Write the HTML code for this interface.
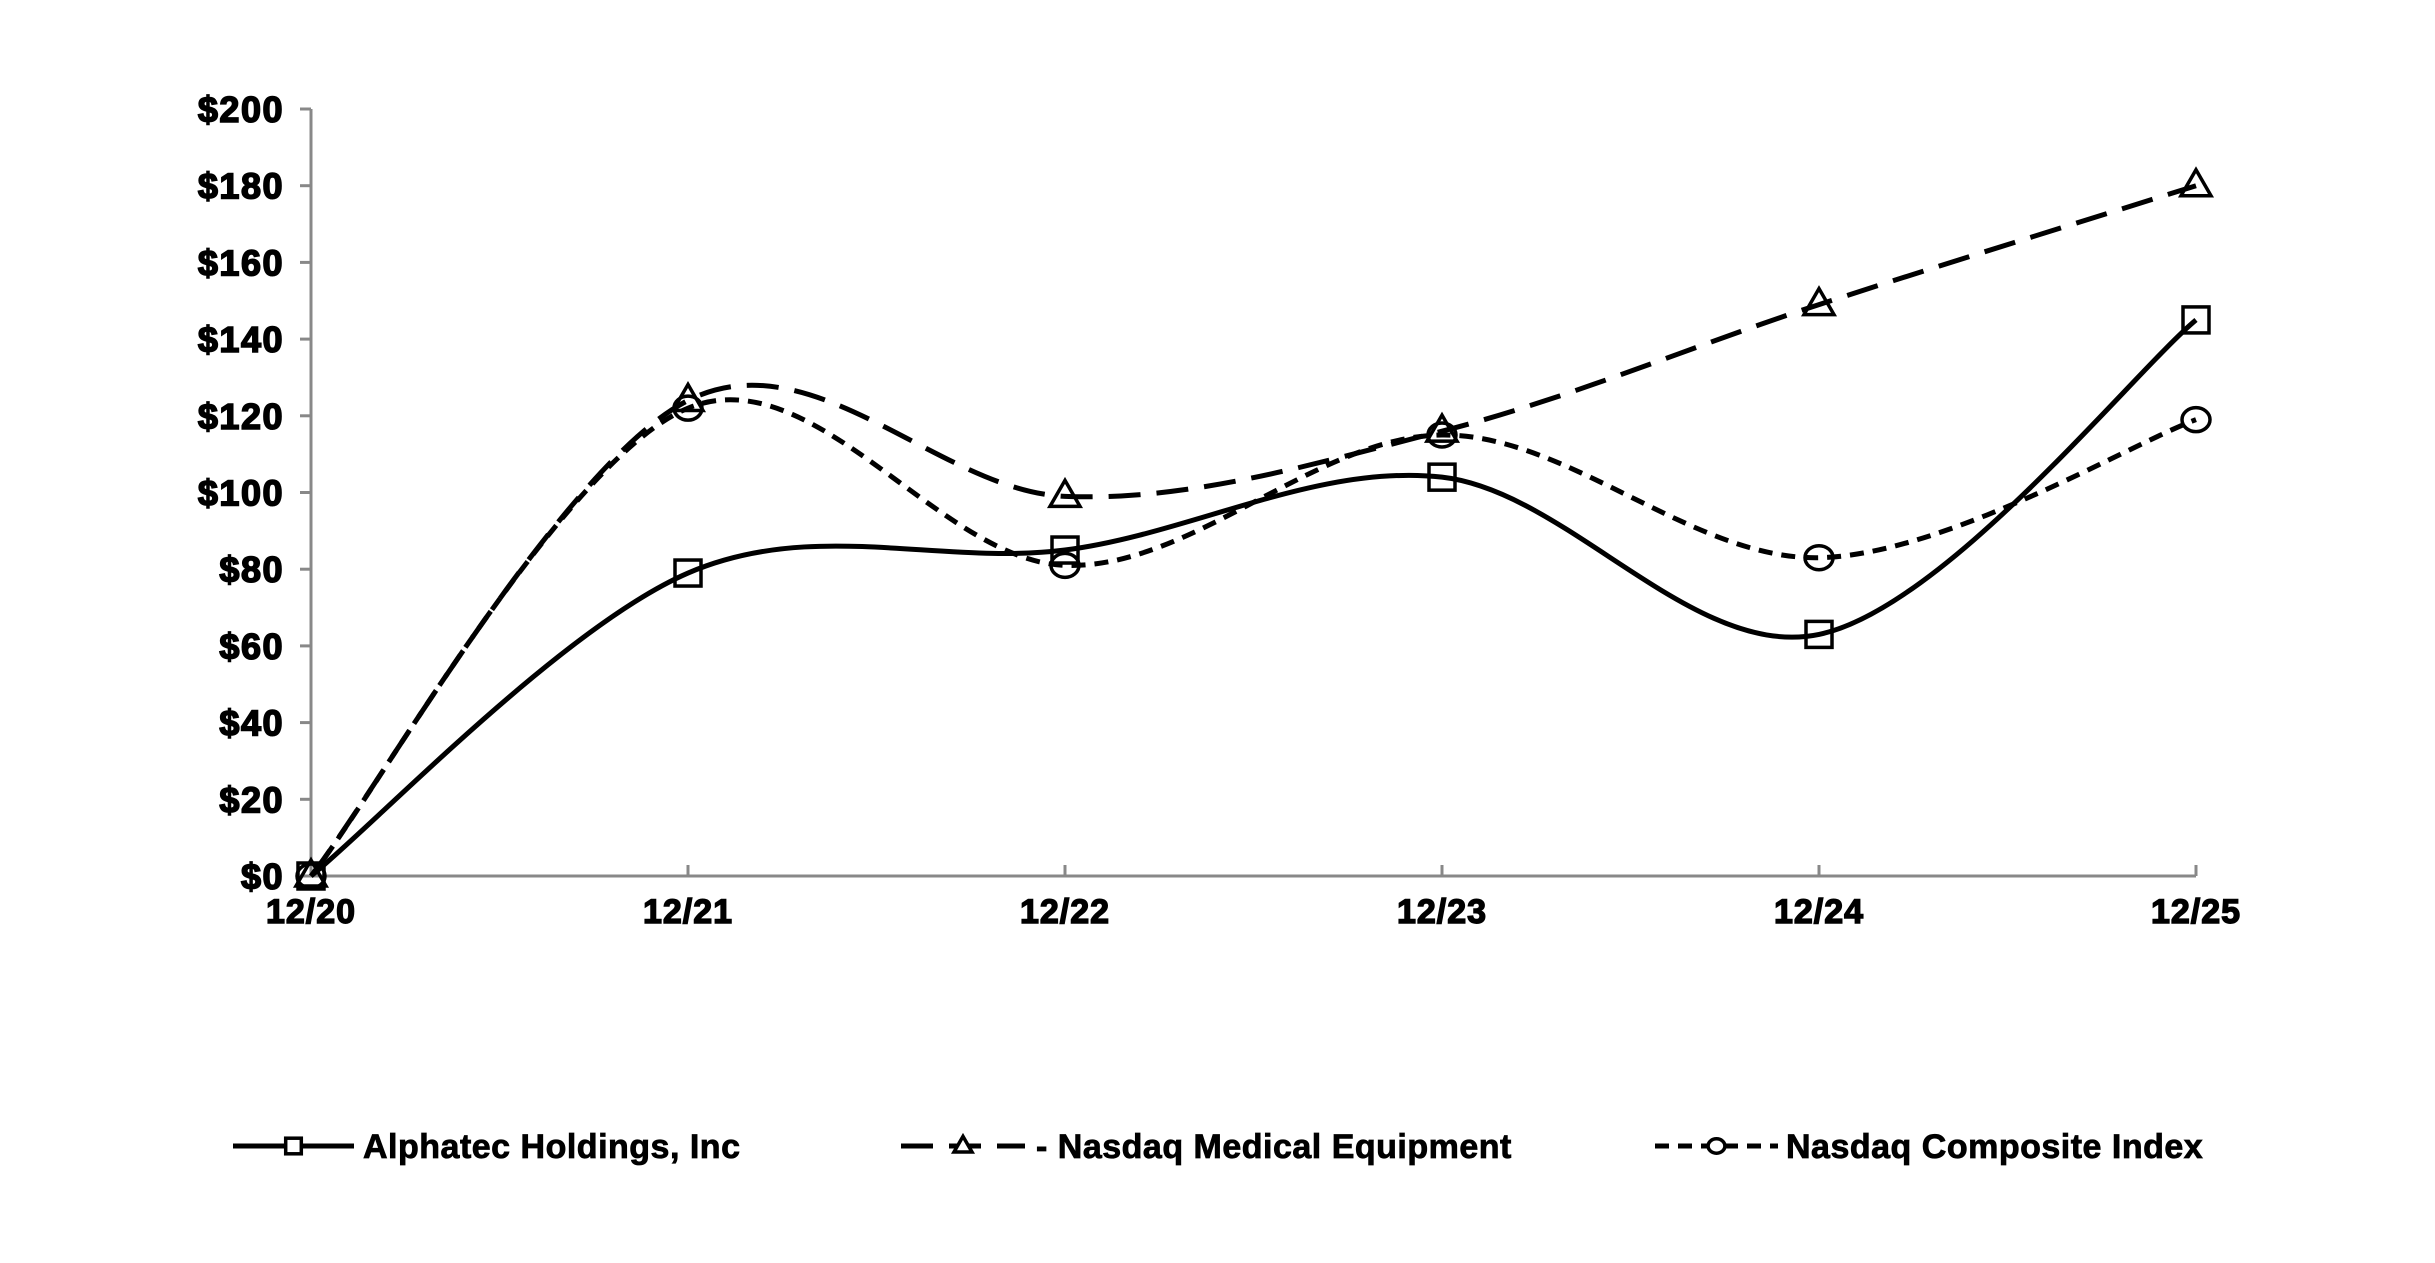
<!DOCTYPE html>
<html><head><meta charset="utf-8"><style>
html,body{margin:0;padding:0;background:#fff;}
svg{display:block;font-family:"Liberation Sans",Arial,sans-serif;font-weight:bold;}
</style></head><body>
<svg id="chart" width="2435" height="1263" viewBox="0 0 2435 1263" xmlns="http://www.w3.org/2000/svg">
<g id="axes"></g>
<g id="series"></g>
<g id="legend"></g>
</svg>
<script>
const categories = ["12/20","12/21","12/22","12/23","12/24","12/25"];
const alphatec = [0, 79, 85, 104, 63, 145];
const medical = [0, 124, 99, 116, 149, 180];
const composite = [0, 122, 81, 115, 83, 119];
const yTicks = [0,20,40,60,80,100,120,140,160,180,200];
const seriesNames = ["Alphatec Holdings, Inc","- Nasdaq Medical Equipment","Nasdaq Composite Index"];

const NS="http://www.w3.org/2000/svg";
const X0=311, X1=2196, Y0=876, Y1=109;
function xs(i){return X0+(X1-X0)*i/(categories.length-1);}
function ys(v){return Y0-(Y0-Y1)*v/200;}
function mk(tag,attrs,parent){const e=document.createElementNS(NS,tag);for(const k in attrs)e.setAttribute(k,attrs[k]);parent.appendChild(e);return e;}
const axes=document.getElementById('axes'), series=document.getElementById('series'), legend=document.getElementById('legend');

let yl=mk('line',{x1:X0,y1:Y1,x2:X0,y2:Y0,stroke:'#888','stroke-width':3},axes);


yTicks.forEach(v=>{
  const t=mk('line',{x1:X0-11,y1:ys(v),x2:X0,y2:ys(v),stroke:'#888','stroke-width':3},axes);
  
  
  const l=mk('text',{x:X0-27,y:ys(v)+13,'text-anchor':'end','font-size':36,stroke:'#000','stroke-width':1.6,'letter-spacing':1.5},axes);
  l.textContent='$'+v;
  
  
});
let xl=mk('line',{x1:X0,y1:Y0,x2:X1,y2:Y0,stroke:'#888','stroke-width':3},axes);


categories.forEach((c,i)=>{
  const t=mk('line',{x1:xs(i),y1:Y0,x2:xs(i),y2:Y0-11,stroke:'#888','stroke-width':3},axes);
  
  
  const l=mk('text',{x:xs(i),y:Y0+47,'text-anchor':'middle','font-size':34,stroke:'#000','stroke-width':1.4,'letter-spacing':1},axes);
  l.textContent=c;
  
  
});

function smoothPath(vals){
  const p=vals.map((v,i)=>[xs(i),ys(v)]);
  let d='M'+p[0][0]+','+p[0][1];
  for(let i=0;i<p.length-1;i++){
    const p0=p[Math.max(i-1,0)],p1=p[i],p2=p[i+1],p3=p[Math.min(i+2,p.length-1)];
    const c1=[p1[0]+(p2[0]-p0[0])/6,p1[1]+(p2[1]-p0[1])/6];
    const c2=[p2[0]-(p3[0]-p1[0])/6,p2[1]-(p3[1]-p1[1])/6];
    d+=' C'+c1+' '+c2+' '+p2;
  }
  return d;
}
function marker(type,x,y,parent,s){
  s=s||1;
  let e;
  if(type==='square') e=mk('rect',{x:x-13*s,y:y-13*s,width:26*s,height:26*s,fill:'none',stroke:'#000','stroke-width':3.5},parent);
  else if(type==='triangle') e=mk('polygon',{points:`${x},${y-16*s} ${x-15*s},${y+10*s} ${x+15*s},${y+10*s}`,fill:'none',stroke:'#000','stroke-width':3.5},parent);
  else e=mk('ellipse',{cx:x,cy:y,rx:14*s,ry:12*s,fill:'none',stroke:'#000','stroke-width':3.5},parent);
  return e;
}
const defs=[
  {vals:alphatec,dash:'',mark:'square',name:'alphatec-line'},
  {vals:medical,dash:'32,16',mark:'triangle',name:'medical-equipment-line'},
  {vals:composite,dash:'14,9',mark:'circle',name:'composite-index-line'}
];
defs.forEach(s=>{
  const g=mk('g',{},series);
  
  
  const p=mk('path',{d:smoothPath(s.vals),fill:'none',stroke:'#000','stroke-width':5,'stroke-dasharray':s.dash},g);
  
  
  s.vals.forEach((v,i)=>{
    const m=marker(s.mark,xs(i),ys(v),g);
    
    
  });
});
const legX=[[233,354,363],[901,1025,1036],[1655,1778,1786]];
const LY=1146;
defs.forEach((s,i)=>{
  const g=mk('g',{},legend);
  
  
  mk('line',{x1:legX[i][0],y1:LY,x2:legX[i][1],y2:LY,stroke:'#000','stroke-width':5,'stroke-dasharray':s.dash},g);
  marker(s.mark,(legX[i][0]+legX[i][1])/2,LY,g,0.6).setAttribute('fill','#fff');
  const t=mk('text',{x:legX[i][2],y:LY+12,'font-size':34,stroke:'#000','stroke-width':0.8,'letter-spacing':0.5},g);
  t.textContent=seriesNames[i];
  
  
});
</script>
</body></html>
